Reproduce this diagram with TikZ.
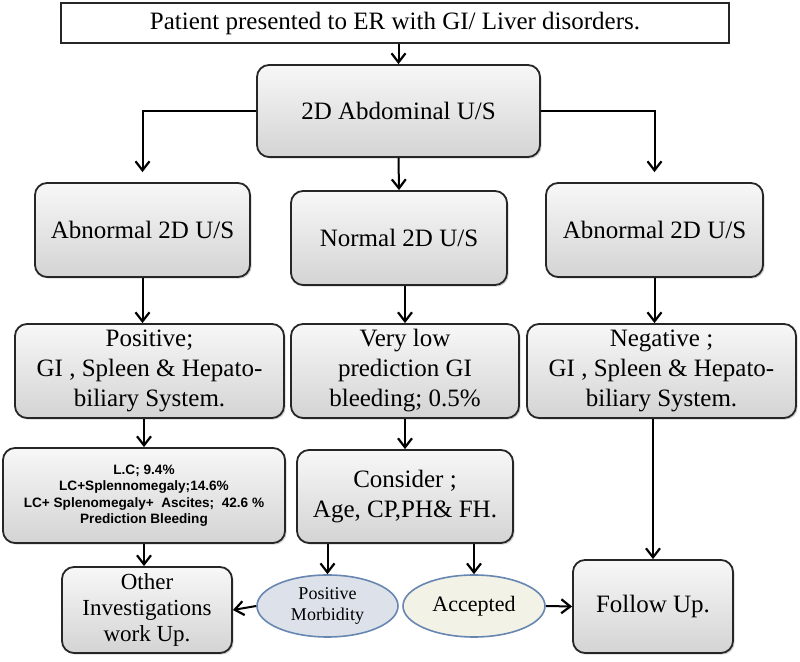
\documentclass[tikz,border=0pt]{standalone}
\usepackage{fontspec}
\setmainfont{Liberation Serif}
\newfontfamily\lcfont{Liberation Sans}
\usetikzlibrary{arrows.meta,shadows,shapes.geometric}

\definecolor{ovalline}{RGB}{104,134,178}
\definecolor{morbfill}{RGB}{221,226,234}
\definecolor{accfill}{RGB}{242,242,230}

\tikzset{
  flowbox/.style={draw=black!85, line width=0.9pt, rounded corners=6pt,
    top color=gray!6, bottom color=gray!34, align=center, inner sep=1pt,
    drop shadow={shadow xshift=0.8pt, shadow yshift=-0.8pt, opacity=0.35},
    font=\fontsize{12.5}{15}\selectfont},
  topbox/.style={draw=black!85, line width=0.9pt, fill=white, align=center,
    drop shadow={shadow xshift=0.6pt, shadow yshift=-0.6pt, opacity=0.25},
    font=\fontsize{12.5}{15}\selectfont},
  oval/.style={ellipse, draw=ovalline, line width=0.8pt, align=center, inner sep=0pt},
  flow/.style={line width=1pt, -{Straight Barb[length=4.5pt,width=7pt,line width=1.1pt]}}
}

\begin{document}
\begin{tikzpicture}[x=0.5pt,y=-0.5pt]
\useasboundingbox (0,0) rectangle (800,662);
% boxes
\node[topbox, minimum width=334pt, minimum height=20pt] (er) at (395,23) {Patient presented to ER with GI/ Liver disorders.};
\node[flowbox, minimum width=141.5pt, minimum height=46pt] (abd) at (398.5,111) {2D Abdominal U/S};
\node[flowbox, minimum width=107.5pt, minimum height=47pt] (abnL) at (142.5,230) {Abnormal 2D U/S};
\node[flowbox, minimum width=108pt, minimum height=47pt] (norm) at (399,238) {Normal 2D U/S};
\node[flowbox, minimum width=108.5pt, minimum height=47pt] (abnR) at (654.5,230) {Abnormal 2D U/S};
\node[flowbox, minimum width=134.5pt, minimum height=47pt] (pos) at (149.5,371) {Positive;\\GI , Spleen \& Hepato-\\biliary System.};
\node[flowbox, minimum width=114pt, minimum height=47pt] (vlow) at (405,371) {Very low\\prediction GI\\bleeding; 0.5\%};
\node[flowbox, minimum width=134.5pt, minimum height=47pt] (neg) at (661.5,371) {Negative ;\\GI , Spleen \& Hepato-\\biliary System.};
\node[flowbox, minimum width=141pt, minimum height=47.5pt, font=\lcfont\bfseries\fontsize{6.8}{8.2}\selectfont] (lc) at (144,495.5)
  {L.C; 9.4\%\\LC+Splennomegaly;14.6\%\\LC+ Splenomegaly+\ \ Ascites;\ \ 42.6 \%\\Prediction Bleeding};
\node[flowbox, minimum width=108pt, minimum height=46.5pt] (cons) at (405,496.5) {Consider ;\\Age, CP,PH\& FH.};
\node[flowbox, minimum width=85pt, minimum height=43pt, font=\fontsize{11.5}{13}\selectfont] (oth) at (147,610) {Other\\Investigations\\work Up.};
\node[oval, fill=morbfill, minimum width=70.5pt, minimum height=31pt, font=\fontsize{9}{10.5}\selectfont] (pm) at (327.5,606) {Positive\\Morbidity};
\node[oval, fill=accfill, minimum width=71pt, minimum height=31pt, font=\fontsize{11}{13}\selectfont] (acc) at (474,606) {Accepted};
\node[flowbox, minimum width=80pt, minimum height=46.5pt] (fup) at (653,606.5) {Follow Up.};
% connectors
\draw[flow] (abd.north |- er.south) -- (abd.north);
\draw[flow, shorten >=5pt] (abd.west) -| (abnL.north);
\draw[flow, shorten >=5pt] (abd.east) -| (abnR.north);
\draw[flow] (abd.south) -- (norm.north);
\draw[flow] (abnL.south) -- (abnL.south |- pos.north);
\draw[flow] (vlow.north |- norm.south) -- (vlow.north);
\draw[flow] (abnR.south) -- (abnR.south |- neg.north);
\draw[flow] (lc.north |- pos.south) -- (lc.north);
\draw[flow] (vlow.south) -- (cons.north);
\draw[flow] (lc.south) -- (lc.south |- oth.north);
\draw[flow] (pm.north |- cons.south) -- (pm.north);
\draw[flow] (acc.north |- cons.south) -- (acc.north);
\draw[flow] (pm.west) -- (oth.east);
\draw[flow] (acc.east) -- (fup.west);
\draw[flow] (fup.north |- neg.south) -- (fup.north);
\end{tikzpicture}
\end{document}
